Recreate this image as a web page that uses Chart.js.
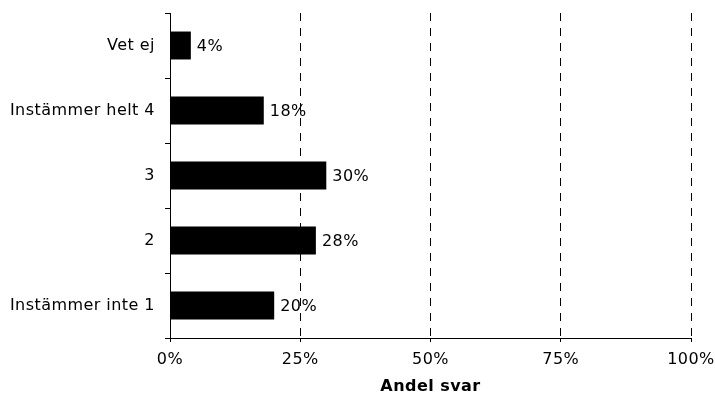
<!DOCTYPE html>
<html>
<head>
<meta charset="utf-8">
<script src="https://cdn.jsdelivr.net/npm/chart.js@4/dist/chart.umd.min.js"></script>
<style>
  html, body { margin: 0; padding: 0; background: #fff; }
</style>
</head>
<body>
<canvas id="svarChart" width="715" height="396"></canvas>
<script>
// svarsalternativ, uppifrån och ned
const kategorier = ['Vet ej', 'Instämmer helt 4', '3', '2', 'Instämmer inte 1'];
// andel svar i procent
const andelar = [4, 18, 30, 28, 20];
// x-axelns steg
const xSteg = [0, 25, 50, 75, 100];

const FONT = 'DejaVu Sans, Verdana, sans-serif';

// lite luftigare text överallt, sätts innan layouten mäts
const teckenAvstand = {
  id: 'teckenAvstand',
  beforeLayout(chart) { chart.ctx.letterSpacing = '0.45px'; },
  beforeDraw(chart) { chart.ctx.letterSpacing = '0.45px'; }
};

// skriver ut värdet till höger om varje stapel
const vardeEtiketter = {
  id: 'vardeEtiketter',
  afterDatasetsDraw(chart) {
    const ctx = chart.ctx;
    const meta = chart.getDatasetMeta(0);
    ctx.save();
    ctx.font = '16px ' + FONT;
    ctx.fillStyle = '#000';
    ctx.textAlign = 'left';
    ctx.textBaseline = 'middle';
    meta.data.forEach((bar, i) => {
      ctx.fillText(chart.data.datasets[0].data[i] + '%', bar.x + 6, bar.y + 1);
    });
    ctx.restore();
  }
};

const svarChart = new Chart(document.getElementById('svarChart'), {
  type: 'bar',
  data: {
    labels: kategorier,
    datasets: [{
      data: andelar,
      backgroundColor: '#000',
      borderWidth: 0,
      barPercentage: 0.43,
      categoryPercentage: 1
    }]
  },
  plugins: [teckenAvstand, vardeEtiketter],
  options: {
    indexAxis: 'y',
    responsive: false,
    animation: false,
    layout: { padding: { top: 13, right: 24, left: 0, bottom: 0 } },
    plugins: {
      legend: { display: false },
      tooltip: { enabled: false }
    },
    scales: {
      x: {
        min: 0,
        max: 100,
        afterBuildTicks: (axis) => { axis.ticks = xSteg.map(v => ({ value: v })); },
        afterFit: (axis) => {
          axis.height = 58;
          axis.paddingLeft = 0;
          axis.paddingRight = 0;
        },
        grid: {
          // streckade linjer, men ingen vid 0 (där ligger y-axeln)
          color: (c) => (c.tick && c.tick.value === 0) ? 'rgba(0,0,0,0)' : '#000',
          tickColor: '#000',
          tickBorderDash: [],
          tickLength: 4,
          lineWidth: 1
        },
        border: { display: true, color: '#000', width: 1, dash: [8, 7] },
        ticks: {
          color: '#000',
          padding: 8,
          font: { family: FONT, size: 16 },
          callback: (v) => v + '%'
        },
        title: {
          display: true,
          text: 'Andel svar',
          color: '#000',
          font: { family: FONT, size: 16, weight: 'bold' },
          padding: { top: 4, bottom: 0 }
        }
      },
      y: {
        afterFit: (axis) => {
          axis.width = 170;
          axis.paddingTop = 0;
          axis.paddingBottom = 0;
        },
        grid: {
          drawOnChartArea: false,
          offset: true,
          tickLength: 5,
          color: '#000'
        },
        border: { display: true, color: '#000', width: 1 },
        ticks: {
          color: '#000',
          padding: 10,
          font: { family: FONT, size: 16 }
        }
      }
    }
  }
});
</script>
</body>
</html>
